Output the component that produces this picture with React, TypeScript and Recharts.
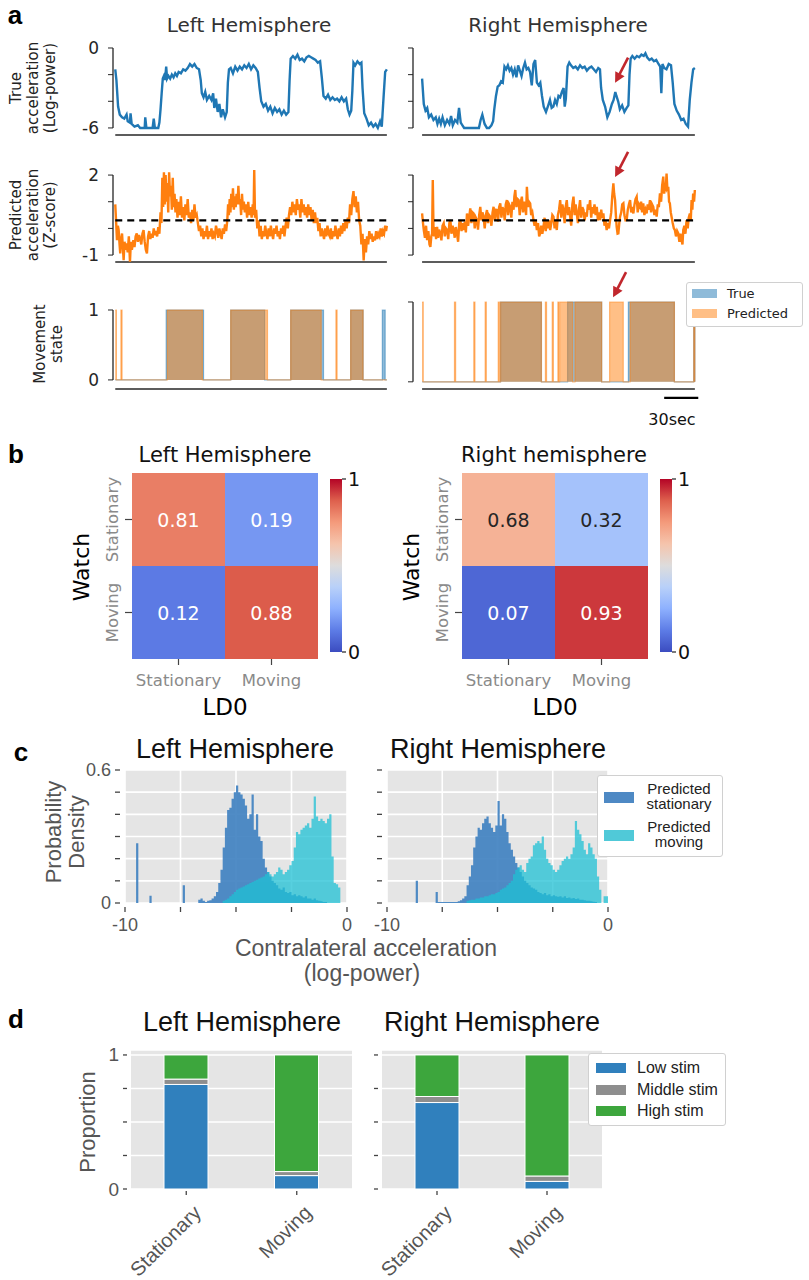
import React from 'react';
import {
  LineChart, Line, AreaChart, Area, BarChart, Bar, Cell, LabelList,
  XAxis, YAxis, CartesianGrid, ReferenceLine, ReferenceDot,
} from 'recharts';

const DEJAVU = '"DejaVu Sans", sans-serif';
const ARIAL = '"Liberation Sans", Arial, sans-serif';
const INK = '#262626';
const RED = '#c1272d';
const PANEL_BG = '#e5e5e5';

// ---- a: acceleration traces, [seconds, value] ----
const timeTicks = [0, 40, 80, 120, 160, 200, 240];
const threshold = 0.3;

const leftTrueAccel = [
  [0, -1.6], [1, -2.4], [2.5, -4.4], [4, -5.0], [6, -5.2], [8, -5.3], [10, -5.0], [11, -5.5], [13, -5.6], [13.5, -4.9],
  [14.5, -5.7], [17, -5.9], [20, -5.8], [22, -6], [26, -6], [26.5, -5.2], [27.5, -6], [33, -6], [34, -5.3], [35, -6],
  [38, -6], [39, -5.6], [40, -4.6], [41, -3.4], [42, -2.3], [43, -2.1], [44, -2.4], [45, -1.4], [45.8, -2.3], [47, -2.1],
  [48.5, -2.3], [50, -2.0], [51.5, -2.2], [53, -1.9], [54.5, -2.1], [56, -1.8], [58, -1.9], [60, -1.6], [62, -1.7], [64, -1.5],
  [66, -1.2], [68, -1.4], [70, -1.2], [72, -1.5], [74, -1.6], [75.5, -2.4], [76.5, -3.4], [78, -3.7], [79.5, -3.3], [81, -3.9],
  [83, -3.6], [85, -3.9], [86.5, -3.4], [87.5, -4.5], [89, -3.8], [90.5, -4.8], [92, -4.2], [93.5, -5.2], [95, -4.6], [97, -5.2],
  [98.5, -4.8], [99.5, -2.6], [100.5, -1.6], [102, -1.5], [104, -1.9], [106, -1.4], [108, -1.7], [110, -1.4], [112, -1.6], [114, -1.3],
  [116, -1.5], [118, -1.2], [120, -1.6], [122, -1.3], [124, -1.5], [126, -1.8], [127.5, -3.0], [129, -4.0], [131, -4.4], [133, -4.2],
  [135, -4.7], [137, -4.4], [139, -4.9], [141, -4.5], [143, -4.8], [145, -4.6], [147, -5.0], [149, -4.7], [151, -5.0], [153, -4.8],
  [154, -2.5], [155, -0.8], [157, -0.6], [159, -0.8], [161, -0.5], [163, -0.9], [165, -0.8], [167, -1.0], [169, -0.7], [171, -0.6],
  [173, -0.7], [175, -0.8], [177, -0.9], [179, -1.1], [181, -1.0], [182.5, -2.2], [184, -3.6], [186, -3.8], [188, -3.5], [190, -3.9],
  [192, -3.7], [194, -3.9], [196, -3.8], [198, -4.0], [200, -3.7], [202, -4.0], [204, -3.8], [205.5, -4.6], [207, -5.0], [208.5, -4.7],
  [209.5, -3.2], [210.5, -1.1], [212, -1.3], [214, -1.0], [216, -1.2], [217.5, -1.1], [218.5, -3.0], [220, -4.9], [222, -5.3], [224, -5.8],
  [226, -5.6], [228, -5.9], [230, -5.7], [232, -6.0], [234, -5.5], [235.5, -5.9], [237, -3.8], [238.5, -1.8], [240, -1.6],
];

const rightTrueAccel = [
  [0, -2.3], [1.5, -4.2], [3, -4.7], [4.5, -4.5], [6, -5.2], [8, -5.0], [10, -5.4], [12, -5.2], [13.5, -5.7], [15, -5.3],
  [16.5, -5.7], [18, -5.2], [20, -5.8], [22, -5.4], [24, -5.7], [25.5, -5.1], [27, -5.8], [29, -5.4], [31, -5.6], [32.5, -4.5],
  [34, -5.6], [35.5, -5.8], [37, -6], [50, -6], [51.5, -5.4], [53, -5.0], [55, -5.7], [57, -6], [59, -6], [61, -5.8],
  [62.5, -5.5], [63.5, -4.6], [65, -3.6], [66.5, -2.9], [68, -2.8], [69.5, -2.5], [71, -2.6], [72.5, -1.4], [74, -1.6], [75.5, -1.3],
  [77, -1.7], [78.5, -1.5], [80, -2.0], [81.5, -1.6], [83, -2.2], [84.5, -1.3], [86, -1.7], [87.5, -2.1], [89, -1.5], [90.5, -1.1],
  [92, -1.6], [93.5, -1.5], [95, -1.8], [96.5, -2.8], [98, -1.2], [99.5, -0.9], [101, -2.6], [102.5, -2.8], [104, -2.6], [105.5, -3.6],
  [107, -4.4], [109, -4.8], [111, -4.3], [112.5, -3.9], [114, -4.5], [115.5, -4.4], [117, -3.9], [118.5, -4.2], [120, -3.6], [121.5, -3.7],
  [123, -3.3], [124.5, -3.0], [125.5, -4.4], [126.5, -3.8], [128, -1.4], [129.5, -1.1], [131, -1.3], [133, -1.5], [135, -1.4], [137, -1.6],
  [139, -1.3], [141, -1.5], [143, -1.4], [145, -1.7], [147, -1.5], [149, -1.4], [151, -1.6], [153, -1.8], [155, -1.5], [156.5, -1.6],
  [157.5, -3.0], [159, -3.9], [161, -4.4], [163, -5.2], [165, -4.8], [167, -4.2], [168.5, -3.9], [170, -3.3], [171, -3.6], [172.5, -4.0],
  [174, -4.6], [176, -4.3], [178, -4.8], [180, -4.5], [181.5, -4.3], [182.5, -2.0], [183.5, -0.8], [185, -0.6], [187, -0.8], [189, -0.6],
  [191, -0.7], [193, -0.5], [195, -0.6], [196.5, -0.4], [198, -0.7], [200, -0.9], [202, -0.8], [204, -1.0], [206, -0.9], [208, -1.2],
  [209.5, -1.4], [210.5, -3.4], [211.5, -1.2], [213, -1.5], [215, -1.6], [217, -1.2], [219, -1.3], [220.5, -2.6], [222, -4.2], [224, -4.7],
  [226, -5.0], [228, -5.4], [230, -5.3], [232, -5.7], [234, -5.9], [235.5, -3.9], [237, -2.6], [238.5, -1.6], [240, -1.5],
];

const leftPredAccel = [
  [0, 0.9], [0.7, 0.3], [1.5, -0.44], [2.3, 0.1], [3, -0.06], [3.8, -0.6], [4.4, -0.94], [5.2, -0.4], [6, -0.19], [6.7, -0.7],
  [7.4, -1.19], [8.2, -0.5], [9, -0.8], [10, -0.56], [11, -0.9], [12, -0.3], [13, -1.25], [13.8, -0.5], [14.7, -0.8], [16, -0.44],
  [17, -0.7], [18, -0.3], [19, -0.19], [20, -0.5], [21, -0.25], [22, -0.38], [23, -0.6], [24, -0.2], [25, -0.06], [26, -0.5],
  [27, -0.8], [28, -0.94], [29, -0.3], [30, -0.1], [31, -0.4], [32, -0.2], [33, -0.35], [34, 0.0], [35, -0.25], [36, -0.1],
  [37, -0.3], [38, 0.05], [39, -0.2], [40, 0.6], [40.8, 0.2], [41.6, 1.9], [42.3, 0.8], [43, 2.1], [43.7, 0.9], [44.5, 2.0],
  [45.3, 1.0], [46, 1.7], [46.8, 0.6], [47.6, 2.1], [48.4, 1.2], [49.2, 1.6], [50, 0.7], [50.8, 1.9], [51.6, 0.8], [52.4, 1.3],
  [53.2, 0.6], [54, 1.1], [55, 0.4], [56, 1.0], [57, 0.5], [58, 1.2], [59, 0.4], [60, 0.8], [61, 0.3], [62, 0.9],
  [63, 0.5], [64, 1.1], [65, 0.4], [66, 0.6], [67, 0.2], [68, 0.7], [69, 0.3], [70, 0.9], [71, 0.4], [72, 0.5],
  [73, 0.2], [74, -0.1], [75, 0.1], [76, -0.3], [77, 0.0], [78, -0.4], [79, -0.1], [80, -0.3], [81, 0.1], [82, -0.4],
  [83, -0.1], [84, -0.3], [85, 0.0], [86, -0.4], [87, -0.2], [88, -0.3], [89, 0.1], [90, -0.1], [91, -0.35], [92, 0.0],
  [93, -0.2], [94, -0.4], [95, 0.0], [96, -0.2], [97, 0.15], [98, -0.1], [99, 0.3], [99.7, 0.9], [100.4, 0.5], [101.1, 1.1],
  [101.8, 0.6], [102.5, 1.3], [103.2, 0.8], [104, 1.5], [104.8, 0.7], [105.6, 1.2], [106.4, 0.8], [107.2, 1.3], [108, 0.9], [108.8, 1.6],
  [109.6, 0.9], [110.4, 1.1], [111.2, 0.5], [112, 1.3], [112.8, 0.7], [113.6, 1.0], [114.5, 0.6], [115.5, 0.9], [116.5, 0.4], [117.5, 1.0],
  [118.5, 0.5], [119.5, 0.8], [120.5, 0.4], [121.5, 0.9], [122.2, 0.5], [122.8, 2.2], [123.5, 0.4], [124.5, 0.7], [125.5, 0.0], [126.5, 0.3],
  [127.5, -0.3], [128.5, 0.1], [129.5, -0.4], [130.5, -0.1], [131.5, -0.3], [132.5, 0.1], [133.5, -0.2], [134.5, -0.4], [135.5, 0.0], [136.5, -0.3],
  [137.5, 0.1], [138.5, -0.2], [139.5, -0.4], [140.5, 0.0], [141.5, -0.2], [142.5, 0.1], [143.5, -0.3], [144.5, -0.1], [145.5, -0.4], [146.5, 0.0],
  [147.5, -0.2], [148.5, 0.1], [149.5, -0.3], [150.5, 0.1], [151.5, 0.4], [152.5, 0.0], [153.5, 0.5], [154.5, 0.8], [155.5, 0.5], [156.5, 1.0],
  [157.5, 0.6], [158.5, 0.9], [159.5, 0.5], [160.5, 1.1], [161.5, 0.7], [162.5, 0.9], [163.5, 0.4], [164.5, 1.1], [165.5, 0.6], [166.5, 0.9],
  [167.5, 0.5], [168.5, 0.8], [169.5, 0.4], [170.5, 0.9], [171.5, 0.5], [172.5, 0.8], [173.5, 0.3], [174.5, 0.7], [175.5, 0.2], [176.5, 0.6],
  [177.5, 0.2], [178.5, 0.4], [179.5, -0.1], [180.5, 0.2], [181.5, -0.3], [182.5, 0.0], [183.5, -0.2], [184.5, -0.4], [185.5, 0.0], [186.5, -0.3],
  [187.5, 0.1], [188.5, -0.2], [189.5, -0.3], [190.5, 0.0], [191.5, -0.4], [192.5, -0.1], [193.5, -0.3], [194.5, 0.1], [195.5, -0.2], [196.5, -0.4],
  [197.5, 0.0], [198.5, -0.3], [199.5, 0.1], [200.5, -0.2], [201.5, 0.2], [202.5, -0.1], [203.5, 0.3], [204.5, 0.0], [205.5, 0.4], [206.5, 0.2],
  [207.5, 0.9], [208.5, 0.5], [209.5, 1.1], [210.5, 1.4], [211.5, 0.8], [212.5, 1.2], [213.5, 0.6], [214.5, 1.0], [215.5, 0.3], [216.5, 0.1],
  [217.5, -0.6], [218.5, -0.2], [219.5, -1.2], [220.5, -0.4], [221.5, -0.9], [222.5, -0.3], [223.5, -0.6], [224.5, -0.1], [225.5, -0.4], [226.5, -0.2],
  [227.5, -0.5], [228.5, -0.3], [229.5, -0.45], [230.5, -0.1], [231.5, -0.4], [232.5, -0.2], [233.5, -0.3], [234.5, 0.0], [235.5, -0.3], [236.5, -0.1],
  [237.5, -0.2], [238.5, 0.1], [239.3, -0.1], [240, 0.1],
];

const rightPredAccel = [
  [0, 0.56], [0.8, 0.2], [1.5, -0.06], [2.5, -0.35], [3.5, 0.1], [4.4, -0.44], [5.5, -0.1], [6.5, -0.6], [7.3, -0.69], [8.1, -0.3],
  [8.8, -0.19], [9.4, 1.81], [10, 0.1], [10.6, -0.3], [11.5, 0.05], [12.3, -0.4], [13.2, 0.06], [14.1, -0.35], [15, -0.05], [16.1, -0.19],
  [17, -0.45], [18, 0.1], [19, 0.19], [20, -0.3], [21, 0.0], [22, -0.06], [23, -0.4], [24, 0.2], [24.9, 0.31], [25.8, -0.2],
  [26.8, 0.1], [27.8, -0.06], [28.7, -0.35], [29.7, 0.05], [30.7, -0.19], [31.7, -0.5], [32.7, 0.2], [33.7, 0.31], [34.7, -0.1], [35.6, 0.2],
  [36.6, -0.06], [37.6, 0.25], [38.5, -0.15], [39.5, 0.56], [40.5, 0.1], [41.4, 0.4], [42.4, 0.75], [43.4, 0.2], [44.4, 0.6], [45.4, 0.56],
  [46.3, 0.0], [47.3, 0.4], [48.3, 0.31], [49.2, -0.05], [50.2, 0.5], [51.2, 0.81], [52.2, 0.3], [53.1, 0.6], [54.1, 0.44], [55.1, 0.0],
  [56.1, 0.5], [57.1, 0.69], [58, 0.2], [59, 0.5], [60, 0.44], [61, 0.1], [62, 0.6], [62.9, 0.81], [63.9, 0.3], [64.9, 0.7],
  [65.9, 0.69], [66.8, 0.25], [67.8, 0.8], [68.8, 0.94], [69.8, 0.4], [70.7, 0.8], [71.7, 0.69], [72.7, 0.3], [73.6, 0.9], [74.6, 1.06],
  [75.6, 0.5], [76.6, 0.9], [77.6, 0.81], [78.5, 0.4], [79.5, 1.0], [80.5, 0.7], [81.2, 1.2], [82, 1.44], [83, 0.8], [84, 1.1],
  [84.9, 1.06], [85.9, 0.5], [86.9, 1.0], [87.8, 1.19], [88.8, 0.6], [89.7, 1.0], [90.7, 0.81], [91.5, 0.5], [92.2, 1.56], [93.2, 0.8],
  [94.1, 1.0], [95.1, 0.94], [96, 0.5], [97, 0.6], [98, 0.31], [99, 0.1], [100, 0.3], [101, -0.06], [102, 0.2], [103, -0.3],
  [103.9, -0.19], [104.8, 0.1], [105.8, -0.2], [106.8, 0.06], [107.8, 0.4], [108.8, -0.1], [109.8, 0.31], [110.8, 0.0], [111.7, 0.3], [112.7, -0.06],
  [113.7, 0.2], [114.6, 0.5], [115.6, 0.44], [116.6, 0.0], [117.6, 0.3], [118.5, -0.06], [119.5, 0.5], [120.5, 0.7], [121.5, 1.06], [122.5, 0.4],
  [123.4, 0.9], [124.4, 0.69], [125.4, 0.2], [126.3, 0.8], [127.3, 1.06], [128.3, 0.5], [129.3, 0.8], [130.3, 0.44], [131.2, 0.1], [132.2, 0.9],
  [133.2, 1.19], [134.2, 0.5], [135.1, 0.9], [136.1, 0.56], [137.1, 0.2], [138, 0.7], [139, 1.06], [140, 0.4], [141, 0.8], [142, 0.69],
  [143, 0.3], [144, 0.6], [144.9, 0.44], [145.9, 0.9], [146.8, 0.7], [147.8, 1.06], [148.8, 0.4], [149.7, 0.8], [150.7, 0.56], [151.7, 0.9],
  [152.7, 0.5], [153.7, 0.81], [154.7, 0.3], [155.6, 0.6], [156.6, 0.31], [157.6, 0.7], [158.5, 0.4], [159.5, 0.56], [160.5, 0.1], [161.4, 0.3],
  [162.4, -0.06], [163.4, 0.2], [164.4, 0.0], [165.4, 0.31], [166.4, 0.6], [167.3, 1.2], [168.3, 1.69], [169, 1.3], [169.8, 1.06], [170.5, 0.5],
  [171.2, 0.06], [172, -0.2], [172.7, -0.19], [173.5, 0.2], [174.2, 0.44], [175.2, 0.6], [176.1, 0.9], [177.1, 0.94], [178, 0.5], [179, 0.3],
  [180, 0.31], [181, 0.7], [182, 0.9], [183, 1.06], [184, 0.6], [184.9, 0.8], [185.9, 0.56], [186.9, 0.9], [187.8, 1.1], [188.8, 1.19],
  [189.7, 0.6], [190.7, 0.9], [191.7, 0.81], [192.7, 1.0], [193.6, 0.6], [194.6, 0.94], [195.6, 0.5], [196.6, 0.7], [197.6, 0.56], [198.5, 0.9],
  [199.5, 0.7], [200.5, 1.06], [201.5, 0.6], [202.4, 0.9], [203.4, 0.81], [204.4, 0.5], [205.4, 0.7], [206.4, 0.44], [207.4, 0.9], [208.3, 0.8],
  [209.3, 1.31], [210.3, 1.0], [211.2, 1.6], [212.2, 1.94], [213, 1.3], [213.7, 1.56], [214.4, 1.5], [215.1, 2.06], [215.9, 1.4], [216.6, 1.56],
  [217.3, 1.0], [218, 0.94], [218.8, 0.6], [219.5, 0.44], [220.5, 0.2], [221.5, 0.0], [222.4, -0.06], [223.4, -0.3], [224.4, -0.1], [225.4, -0.19],
  [226.4, -0.5], [227.3, -0.2], [228.3, -0.44], [229.1, -0.6], [229.8, -0.06], [230.8, 0.1], [231.7, -0.2], [232.7, 0.31], [233.7, 0.0], [234.6, 0.4],
  [235.6, 0.56], [236.4, 0.3], [237.1, 1.06], [237.8, 0.7], [238.5, 1.31], [239.3, 1.0], [240, 1.44],
];

// movement state, [start, end] in seconds
const leftTrueMoving = [[45, 78], [102, 132], [155, 184], [208, 219], [236, 238.5]];
const leftPredMoving = [[0, 1], [5, 6], [46, 77], [102, 134.5], [155, 182], [195, 196], [208, 219]];
const rightTrueMoving = [[69, 105], [128, 158], [181.5, 222], [239, 240]];
const rightPredMoving = [
  [0, 1], [28.5, 29.5], [45.5, 46.5], [55.5, 56.5], [67, 68], [69, 105], [108.5, 109.5], [114.5, 115.5],
  [119.5, 120.5], [121, 132.5], [134.5, 158], [165, 177], [183, 222], [239, 240],
];

// ---- b: confusion matrices (rows: watch, cols: LD0) ----
const stateLabels = ['Stationary', 'Moving'];
const leftConfusion = [[0.81, 0.19], [0.12, 0.88]];
const rightConfusion = [[0.68, 0.32], [0.07, 0.93]];
const coolwarmStops = [
  [0, '#3b4cc0'], [0.125, '#5d7ce6'], [0.25, '#8db0fe'], [0.375, '#b8d0f9'], [0.5, '#dddcdc'],
  [0.625, '#f5c4ac'], [0.75, '#f49a7b'], [0.875, '#de604d'], [1, '#b40426'],
];

// ---- c: density histograms, bins of 0.1 from -10 ----
const binWidth = 0.1;
const histTicks = [-10, -7.5, -5, -2.5, 0];
const densityTicks = [0, 0.1, 0.2, 0.3, 0.4, 0.5, 0.6];
const leftStationaryDensity = [
  0, 0, 0, 0, 0, 0.27, 0, 0, 0, 0,
  0, 0.033, 0, 0, 0, 0, 0, 0, 0, 0,
  0, 0, 0, 0, 0, 0, 0.08, 0, 0, 0,
  0, 0, 0, 0.015, 0.02, 0.01, 0.005, 0.01, 0.012, 0.02,
  0.03, 0.05, 0.09, 0.15, 0.25, 0.34, 0.42, 0.43, 0.47, 0.5,
  0.53, 0.5, 0.49, 0.47, 0.44, 0.38, 0.4, 0.49, 0.33, 0.4,
  0.3, 0.28, 0.2, 0.16, 0.14, 0.12, 0.1, 0.09, 0.08, 0.065,
  0.06, 0.07, 0.05, 0.045, 0.05, 0.035, 0.04, 0.03, 0.035, 0.03,
  0.025, 0.03, 0.02, 0.02, 0.015, 0.02, 0.012, 0.01, 0.008, 0.005,
  0.005, 0, 0, 0, 0, 0, 0, 0, 0, 0,
];
const leftMovingDensity = [
  0, 0, 0, 0, 0, 0, 0, 0, 0, 0,
  0, 0, 0, 0, 0, 0, 0, 0, 0, 0,
  0, 0, 0, 0, 0, 0, 0, 0, 0, 0,
  0, 0, 0, 0, 0, 0, 0, 0, 0, 0,
  0, 0, 0, 0, 0.01, 0.015, 0.02, 0.03, 0.04, 0.05,
  0.06, 0.065, 0.07, 0.075, 0.08, 0.085, 0.09, 0.095, 0.1, 0.105,
  0.11, 0.115, 0.12, 0.13, 0.14, 0.13, 0.12, 0.13, 0.14, 0.16,
  0.15, 0.13, 0.14, 0.15, 0.17, 0.19, 0.25, 0.32, 0.31, 0.33,
  0.34, 0.35, 0.36, 0.34, 0.38, 0.48, 0.39, 0.37, 0.38, 0.37,
  0.36, 0.38, 0.4, 0.21, 0.09, 0.085, 0.07, 0, 0, 0,
];
const rightStationaryDensity = [
  0, 0, 0, 0, 0, 0, 0, 0, 0, 0,
  0, 0, 0, 0.1, 0, 0, 0, 0, 0, 0,
  0, 0, 0.05, 0.005, 0.005, 0.005, 0.005, 0.005, 0.005, 0.005,
  0.005, 0.005, 0.008, 0.012, 0.02, 0.03, 0.08, 0.12, 0.17, 0.25,
  0.3, 0.34, 0.33, 0.36, 0.38, 0.39, 0.36, 0.34, 0.32, 0.35,
  0.46, 0.35, 0.4, 0.38, 0.32, 0.27, 0.24, 0.21, 0.18, 0.16,
  0.14, 0.12, 0.1, 0.09, 0.08, 0.07, 0.065, 0.06, 0.05, 0.045,
  0.04, 0.045, 0.035, 0.04, 0.03, 0.035, 0.03, 0.028, 0.03, 0.025,
  0.03, 0.022, 0.025, 0.02, 0.022, 0.018, 0.02, 0.015, 0.015, 0.012,
  0.01, 0.01, 0.008, 0.006, 0.005, 0, 0, 0, 0, 0,
];
const rightMovingDensity = [
  0, 0, 0, 0, 0, 0, 0, 0, 0, 0,
  0, 0, 0, 0, 0, 0, 0, 0, 0, 0,
  0, 0, 0, 0, 0, 0, 0, 0, 0, 0,
  0, 0, 0, 0, 0, 0, 0.01, 0.012, 0.015, 0.015,
  0.02, 0.02, 0.025, 0.025, 0.03, 0.03, 0.035, 0.04, 0.04, 0.045,
  0.05, 0.06, 0.065, 0.07, 0.08, 0.09, 0.1, 0.13, 0.15, 0.16,
  0.17, 0.15, 0.14, 0.18, 0.2, 0.21, 0.26, 0.27, 0.28, 0.27,
  0.3, 0.24, 0.2, 0.18, 0.17, 0.15, 0.14, 0.15, 0.17, 0.19,
  0.2, 0.21, 0.2, 0.22, 0.25, 0.37, 0.33, 0.31, 0.28, 0.24,
  0.22, 0.27, 0.25, 0.22, 0.2, 0.12, 0.06, 0, 0.03, 0.03,
];

// ---- d: stimulation proportions per predicted state ----
const proportionTicks = [0, 0.25, 0.5, 0.75, 1];
const leftLowStim = [0.78, 0.1];
const leftMidStim = [0.04, 0.03];
const leftHighStim = [0.18, 0.87];
const rightLowStim = [0.645, 0.057];
const rightMidStim = [0.045, 0.04];
const rightHighStim = [0.31, 0.903];

const BLUE = '#1f77b4';
const ORANGE = '#ff7f0e';
const STAT_FILL = '#3d7fc0';
const MOV_FILL = '#1fc0d4';
const LOW = '#3080bd';
const MID = '#8e8e8e';
const HIGH = '#3da63d';

function hexToRgb(h) {
  return [1, 3, 5].map((i) => parseInt(h.slice(i, i + 2), 16));
}

function coolwarm(v) {
  for (let i = 1; i < coolwarmStops.length; i++) {
    const [v1, c1] = coolwarmStops[i];
    const [v0, c0] = coolwarmStops[i - 1];
    if (v <= v1) {
      const f = (v - v0) / (v1 - v0);
      const a = hexToRgb(c0), b = hexToRgb(c1);
      const c = a.map((x, k) => Math.round(x + (b[k] - x) * f));
      return `rgb(${c[0]},${c[1]},${c[2]})`;
    }
  }
  return coolwarmStops[coolwarmStops.length - 1][1];
}

function textOn(v) {
  const c = coolwarm(v).match(/\d+/g).map(Number);
  const lin = c.map((x) => { const s = x / 255; return s <= 0.03928 ? s / 12.92 : Math.pow((s + 0.055) / 1.055, 2.4); });
  const lum = 0.2126 * lin[0] + 0.7152 * lin[1] + 0.0722 * lin[2];
  return lum > 0.408 ? '#262626' : '#ffffff';
}

function stateTable(trueIv, predIv) {
  const edges = Array.from(new Set([0, 240, ...trueIv.flat(), ...predIv.flat()])).sort((a, b) => a - b);
  const inside = (iv, t) => (iv.some(([s, e]) => t >= s && t < e) ? 1 : 0);
  return edges.map((t) => ({ t, truth: inside(trueIv, t), pred: inside(predIv, t) }));
}

function histTable(stationary, moving) {
  const rows = stationary.map((s, i) => ({ x: Math.round((-10 + i * binWidth) * 10) / 10, s, m: moving[i] }));
  return rows.concat([{ x: 0, s: 0, m: 0 }]);
}

function Txt({ x, y, size, children, font = ARIAL, color = '#000', weight = 400, rotate = 0, lh = 0 }) {
  return (
    <div style={{
      position: 'absolute', left: x, top: y, transform: `translate(-50%, -50%) rotate(${rotate}deg)`,
      fontSize: size, fontFamily: font, color, fontWeight: weight, lineHeight: lh ? `${lh}px` : 1.15,
      whiteSpace: 'nowrap', textAlign: 'center',
    }}>{children}</div>
  );
}

const ArrowShape = (p) => {
  const { cx, cy } = p;
  return (
    <g>
      <line x1={cx + 13} y1={cy - 25} x2={cx + 4.5} y2={cy - 8.5} stroke={RED} strokeWidth={2.6} />
      <polygon points={`${cx},${cy} ${cx + 9.5},${cy - 6.5} ${cx + 0.2},${cy - 11.5}`} fill={RED} />
    </g>
  );
};

function Spines({ xMin, yLo, yHi, yBase }) {
  return [
    <ReferenceLine key="ys" segment={[{ x: xMin, y: yLo }, { x: xMin, y: yHi }]} stroke={INK} strokeWidth={1.3} ifOverflow="visible" />,
    <ReferenceLine key="xs" segment={[{ x: 0, y: yBase }, { x: 240, y: yBase }]} stroke={INK} strokeWidth={1.3} ifOverflow="visible" />,
  ];
}

function AccelPlot({ box, xMin, data, color, yDomain, yTicks, labelled, dashed = false, arrow = null }) {
  const yw = 45, xh = 10, mr = 6;
  const rows = data.map(([t, v]) => ({ t, v }));
  return (
    <div style={{ position: 'absolute', left: box.x - yw, top: box.y, fontFamily: DEJAVU }}>
      <LineChart width={yw + box.w + mr} height={box.h + xh} data={rows} margin={{ top: 0, right: mr, bottom: 0, left: 0 }}>
        <XAxis type="number" dataKey="t" domain={[xMin, 241]} ticks={timeTicks} allowDataOverflow axisLine={false}
          tick={false} tickSize={5} height={xh} stroke={INK} interval={0} />
        <YAxis type="number" domain={yDomain} ticks={yTicks} allowDataOverflow axisLine={false} width={yw}
          tickSize={5} tickMargin={9} stroke={INK} interval={0} tick={{ fill: INK, fontSize: 17 }}
          tickFormatter={(v) => (labelled.includes(v) ? String(v) : '')} />
        {Spines({ xMin, yLo: yTicks[0], yHi: yTicks[yTicks.length - 1], yBase: yDomain[0] })}
        <Line type="linear" dataKey="v" stroke={color} strokeWidth={2.4} dot={false} isAnimationActive={false} />
        {dashed && (
          <ReferenceLine segment={[{ x: 0, y: threshold }, { x: 240, y: threshold }]} stroke="#000" strokeWidth={2.2} strokeDasharray="7 5" />
        )}
        {arrow && <ReferenceDot x={arrow[0]} y={arrow[1]} r={1} ifOverflow="visible" shape={ArrowShape} />}
      </LineChart>
    </div>
  );
}

function StatePlot({ box, xMin, yDomain, trueIv, predIv, labelled, mt = 0, arrow = null, scaleBar = false }) {
  const yw = 45, xh = 10, mr = 20;
  const rows = stateTable(trueIv, predIv);
  return (
    <div style={{ position: 'absolute', left: box.x - yw, top: box.y - mt, fontFamily: DEJAVU }}>
      <AreaChart width={yw + box.w + mr} height={box.h + xh + mt} data={rows} margin={{ top: mt, right: mr, bottom: 0, left: 0 }}>
        <XAxis type="number" dataKey="t" domain={[xMin, 241]} ticks={timeTicks} allowDataOverflow axisLine={false}
          tick={false} tickSize={5} height={xh} stroke={INK} interval={0} />
        <YAxis type="number" domain={yDomain} ticks={[0, 1]} allowDataOverflow axisLine={false} width={yw}
          tickSize={5} tickMargin={9} stroke={INK} interval={0} tick={{ fill: INK, fontSize: 17 }}
          tickFormatter={(v) => (labelled ? String(v) : '')} />
        {Spines({ xMin, yLo: 0, yHi: 1, yBase: yDomain[0] })}
        <Area type="stepAfter" dataKey="truth" baseValue={0} stroke={BLUE} strokeOpacity={0.5} strokeWidth={1.2}
          fill={BLUE} fillOpacity={0.5} isAnimationActive={false} />
        <Area type="stepAfter" dataKey="pred" baseValue={0} stroke={ORANGE} strokeOpacity={0.5} strokeWidth={1.2}
          fill={ORANGE} fillOpacity={0.5} isAnimationActive={false} />
        {arrow && <ReferenceDot x={arrow[0]} y={arrow[1]} r={1} ifOverflow="visible" shape={ArrowShape} />}
        {scaleBar && (
          <ReferenceLine segment={[{ x: 213, y: -0.2 }, { x: 243, y: -0.2 }]} stroke="#000" strokeWidth={2.2} ifOverflow="visible" />
        )}
      </AreaChart>
    </div>
  );
}

const HeatXTick = (p) => (
  <g>
    <line x1={p.x} y1={p.y} x2={p.x} y2={p.y + 6} stroke="#444" strokeWidth={1.2} />
    <text x={p.x} y={p.y + 21} textAnchor="middle" dominantBaseline="central" fontSize={16.5} fill="#8a8a8a">{p.payload.value}</text>
  </g>
);

const HeatYTick = (p) => {
  const label = p.payload.value > 1 ? stateLabels[0] : stateLabels[1];
  return (
    <g>
      <line x1={p.x - 7} y1={p.y} x2={p.x} y2={p.y} stroke="#444" strokeWidth={1.2} />
      <text x={p.x - 20} y={p.y} textAnchor="middle" dominantBaseline="central" fontSize={16.5} fill="#8a8a8a"
        transform={`rotate(-90 ${p.x - 20} ${p.y})`}>{label}</text>
    </g>
  );
};

const CellText = (p) => (
  <text x={p.x + p.width / 2} y={p.y + p.height / 2} textAnchor="middle" dominantBaseline="central"
    fontSize={19} fontFamily={DEJAVU} fill={textOn(p.value)}>{p.value.toFixed(2)}</text>
);

function Heatmap({ box, matrix }) {
  const yw = 50, xh = 34;
  const rows = stateLabels.map((ld, j) => ({ ld, moving: 1, stationary: 1, movingVal: matrix[1][j], stationaryVal: matrix[0][j] }));
  return (
    <div style={{ position: 'absolute', left: box.x - yw, top: box.y, fontFamily: DEJAVU }}>
      <BarChart width={yw + box.w} height={box.h + xh} data={rows} barCategoryGap={0} margin={{ top: 0, right: 0, bottom: 0, left: 0 }}>
        <XAxis dataKey="ld" axisLine={false} tickLine={false} tickSize={0} tickMargin={0} height={xh} interval={0} tick={HeatXTick} />
        <YAxis type="number" domain={[0, 2]} ticks={[0.5, 1.5]} axisLine={false} tickLine={false} tickSize={0} tickMargin={0}
          width={yw} interval={0} tick={HeatYTick} />
        <Bar dataKey="moving" stackId="cm" isAnimationActive={false}>
          {rows.map((r, i) => <Cell key={i} fill={coolwarm(r.movingVal)} />)}
          <LabelList dataKey="movingVal" content={CellText} />
        </Bar>
        <Bar dataKey="stationary" stackId="cm" isAnimationActive={false}>
          {rows.map((r, i) => <Cell key={i} fill={coolwarm(r.stationaryVal)} />)}
          <LabelList dataKey="stationaryVal" content={CellText} />
        </Bar>
      </BarChart>
    </div>
  );
}

const CbTick = (p) => (
  <g>
    <line x1={p.x} y1={p.y} x2={p.x + 4} y2={p.y} stroke="#222" strokeWidth={1.2} />
    <text x={p.x + 6} y={p.y} dominantBaseline="central" fontSize={19} fill="#111">{p.payload.value}</text>
  </g>
);

function ColorBar({ box, id }) {
  const stops = coolwarmStops.map(([v, c]) => ({ v, c }));
  const GradRect = (p) => (
    <g>
      <defs>
        <linearGradient id={id} x1="0" y1="1" x2="0" y2="0">
          {stops.map((s) => <stop key={s.v} offset={s.v} stopColor={s.c} />)}
        </linearGradient>
      </defs>
      <rect x={p.x} y={p.y} width={p.width} height={p.height} fill={`url(#${id})`} />
    </g>
  );
  return (
    <div style={{ position: 'absolute', left: box.x, top: box.y, fontFamily: DEJAVU }}>
      <BarChart width={box.w + 40} height={box.h} data={[{ k: 'cb', v: 1 }]} barCategoryGap={0} margin={{ top: 0, right: 0, bottom: 0, left: 0 }}>
        <XAxis dataKey="k" hide />
        <YAxis orientation="right" type="number" domain={[0, 1]} ticks={[0, 1]} axisLine={false} tickLine={false}
          tickSize={0} tickMargin={0} width={40} interval={0} tick={CbTick} />
        <Bar dataKey="v" isAnimationActive={false} shape={GradRect} />
      </BarChart>
    </div>
  );
}

function Histogram({ box, stationary, moving, yw, showLabels }) {
  const xh = 40;
  const XTick = (p) => (
    <g>
      <line x1={p.x} y1={p.y + 4} x2={p.x} y2={p.y + 9} stroke="#444" strokeWidth={1.3} />
      {(p.payload.value === -10 || p.payload.value === 0) && (
        <text x={p.x} y={p.y + 22} textAnchor="middle" dominantBaseline="central" fontSize={18} fill="#555">{p.payload.value}</text>
      )}
    </g>
  );
  const YTick = (p) => (
    <g>
      <line x1={p.x - 10} y1={p.y} x2={p.x - 5} y2={p.y} stroke="#444" strokeWidth={1.3} />
      {showLabels && (p.payload.value === 0 || p.payload.value === 0.6) && (
        <text x={p.x - 14} y={p.y} textAnchor="end" dominantBaseline="central" fontSize={18} fill="#555">{p.payload.value}</text>
      )}
    </g>
  );
  return (
    <div style={{ position: 'absolute', left: box.x - yw, top: box.y, fontFamily: ARIAL }}>
      <AreaChart width={yw + box.w + 4} height={box.h + xh} data={histTable(stationary, moving)} margin={{ top: 0, right: 4, bottom: 0, left: 0 }}>
        <CartesianGrid fill={PANEL_BG} fillOpacity={1} stroke="#ffffff" strokeWidth={1.6} />
        <XAxis type="number" dataKey="x" domain={[-10, 0]} ticks={histTicks} allowDataOverflow axisLine={false} tickLine={false}
          tickSize={0} tickMargin={0} height={xh} interval={0} tick={XTick} />
        <YAxis type="number" domain={[0, 0.6]} ticks={densityTicks} allowDataOverflow axisLine={false} tickLine={false}
          tickSize={0} tickMargin={0} width={yw} interval={0} tick={YTick} />
        <Area type="stepAfter" dataKey="s" baseValue={0} stroke="none" fill={STAT_FILL} fillOpacity={0.9} isAnimationActive={false} />
        <Area type="stepAfter" dataKey="m" baseValue={0} stroke="none" fill={MOV_FILL} fillOpacity={0.75} isAnimationActive={false} />
      </AreaChart>
    </div>
  );
}

function StimBars({ box, low, mid, high, yw, showLabels }) {
  const xh = 95;
  const rows = stateLabels.map((st, i) => ({ st, low: low[i], mid: mid[i], high: high[i] }));
  const XTick = (p) => (
    <g>
      <line x1={p.x} y1={p.y + 2} x2={p.x} y2={p.y + 6} stroke="#444" strokeWidth={1.3} />
      <text x={p.x + 16} y={p.y + 25} textAnchor="end" fontSize={20} fill="#555"
        transform={`rotate(-45 ${p.x + 16} ${p.y + 25})`}>{p.payload.value}</text>
    </g>
  );
  const YTick = (p) => (
    <g>
      <line x1={p.x - 8} y1={p.y} x2={p.x - 4} y2={p.y} stroke="#444" strokeWidth={1.3} />
      {showLabels && (p.payload.value === 0 || p.payload.value === 1) && (
        <text x={p.x - 12} y={p.y} textAnchor="end" dominantBaseline="central" fontSize={19} fill="#555">{p.payload.value}</text>
      )}
    </g>
  );
  return (
    <div style={{ position: 'absolute', left: box.x - yw, top: box.y, fontFamily: ARIAL }}>
      <BarChart width={yw + box.w} height={box.h + xh} data={rows} margin={{ top: 0, right: 0, bottom: 0, left: 0 }}>
        <CartesianGrid vertical={false} fill={PANEL_BG} fillOpacity={1} stroke="#ffffff" strokeWidth={1.6} />
        <XAxis dataKey="st" axisLine={false} tickLine={false} tickSize={0} tickMargin={0} height={xh} interval={0} tick={XTick} />
        <YAxis type="number" domain={[0, 1.037]} ticks={proportionTicks} allowDataOverflow axisLine={false} tickLine={false}
          tickSize={0} tickMargin={0} width={yw} interval={0} tick={YTick} />
        <Bar dataKey="low" stackId="p" fill={LOW} stroke="#fff" strokeWidth={1} barSize={44} isAnimationActive={false} />
        <Bar dataKey="mid" stackId="p" fill={MID} stroke="#fff" strokeWidth={1} barSize={44} isAnimationActive={false} />
        <Bar dataKey="high" stackId="p" fill={HIGH} stroke="#fff" strokeWidth={1} barSize={44} isAnimationActive={false} />
      </BarChart>
    </div>
  );
}

function Patch({ x, y, w, h, color }) {
  return <div style={{ position: 'absolute', left: x, top: y, width: w, height: h, background: color }} />;
}

const legendBox = { position: 'absolute', border: '1px solid #d0d0d0', borderRadius: 3, background: '#fff', color: '#222', whiteSpace: 'nowrap' };

export default function App() {
  return (
    <div style={{ position: 'absolute', left: 0, top: 0, width: 809, height: 1280, background: '#fff', overflow: 'hidden' }}>
      <style>{'svg{overflow:visible}'}</style>

      {/* a */}
      <Txt x={15} y={16} size={26} weight={700}>a</Txt>
      <Txt x={249} y={25} size={20} font={DEJAVU} color="#333">Left Hemisphere</Txt>
      <Txt x={558} y={25} size={20} font={DEJAVU} color="#333">Right Hemisphere</Txt>
      <Txt x={33} y={88} size={15} font={DEJAVU} color="#222" rotate={-90} lh={17}>True<br />acceleration<br />(Log-power)</Txt>
      <Txt x={33} y={215} size={15} font={DEJAVU} color="#222" rotate={-90} lh={17}>Predicted<br />acceleration<br />(Z-score)</Txt>
      <Txt x={49} y={344} size={15} font={DEJAVU} color="#222" rotate={-90} lh={17}>Movement<br />state</Txt>

      <AccelPlot box={{ x: 113, y: 44, w: 275, h: 91 }} xMin={-2} data={leftTrueAccel} color={BLUE}
        yDomain={[-6.53, 0.3]} yTicks={[-6, -4, -2, 0]} labelled={[-6, 0]} />
      <AccelPlot box={{ x: 413, y: 44, w: 283, h: 91 }} xMin={-8} data={rightTrueAccel} color={BLUE}
        yDomain={[-6.53, 0.3]} yTicks={[-6, -4, -2, 0]} labelled={[]} arrow={[169.8, -2.6]} />
      <AccelPlot box={{ x: 113, y: 170, w: 275, h: 92 }} xMin={-2} data={leftPredAccel} color={ORANGE}
        yDomain={[-1.26, 2.19]} yTicks={[-1, 0, 1, 2]} labelled={[-1, 2]} dashed />
      <AccelPlot box={{ x: 413, y: 170, w: 283, h: 92 }} xMin={-8} data={rightPredAccel} color={ORANGE}
        yDomain={[-1.26, 2.19]} yTicks={[-1, 0, 1, 2]} labelled={[]} dashed arrow={[169.8, 1.93]} />
      <StatePlot box={{ x: 113, y: 303, w: 275, h: 86 }} xMin={-2} yDomain={[-0.13, 1.1]}
        trueIv={leftTrueMoving} predIv={leftPredMoving} labelled />
      <StatePlot box={{ x: 413, y: 298, w: 283, h: 91 }} xMin={-8} yDomain={[-0.09, 1.05]} mt={30}
        trueIv={rightTrueMoving} predIv={rightPredMoving} labelled={false} arrow={[168, 1.06]} scaleBar />
      <Txt x={672} y={420} size={16} font={DEJAVU} color="#111">30sec</Txt>

      <div style={{ ...legendBox, left: 686, top: 282, width: 115, height: 43, fontFamily: DEJAVU, fontSize: 13 }}>
        <Patch x={5} y={6} w={25} h={9} color="#8fbbd9" />
        <div style={{ position: 'absolute', left: 40, top: 3 }}>True</div>
        <Patch x={5} y={26} w={25} h={9} color="#ffbf86" />
        <div style={{ position: 'absolute', left: 40, top: 23 }}>Predicted</div>
      </div>

      {/* b */}
      <Txt x={16} y={455} size={26} weight={700}>b</Txt>
      <Txt x={225} y={455} size={21} font={DEJAVU} color="#111">Left Hemisphere</Txt>
      <Txt x={554} y={455} size={21} font={DEJAVU} color="#111">Right hemisphere</Txt>
      <Txt x={82} y={567} size={22} font={DEJAVU} rotate={-90}>Watch</Txt>
      <Txt x={412} y={567} size={22} font={DEJAVU} rotate={-90}>Watch</Txt>
      <Txt x={225} y={707} size={23} font={DEJAVU}>LD0</Txt>
      <Txt x={555} y={707} size={23} font={DEJAVU}>LD0</Txt>
      <Heatmap box={{ x: 132, y: 473, w: 186, h: 186 }} matrix={leftConfusion} />
      <ColorBar box={{ x: 330, y: 479, w: 12, h: 173 }} id="cbL" />
      <Heatmap box={{ x: 462, y: 473, w: 186, h: 186 }} matrix={rightConfusion} />
      <ColorBar box={{ x: 660, y: 479, w: 12, h: 173 }} id="cbR" />

      {/* c */}
      <Txt x={21} y={753} size={26} weight={700}>c</Txt>
      <Txt x={235} y={750} size={27} color="#111">Left Hemisphere</Txt>
      <Txt x={498} y={750} size={27} color="#111">Right Hemisphere</Txt>
      <Txt x={65} y={832} size={22} color="#555" rotate={-90} lh={23}>Probability<br />Density</Txt>
      <Txt x={366} y={948} size={23} color="#555">Contralateral acceleration</Txt>
      <Txt x={362} y={973} size={23} color="#555">(log-power)</Txt>
      <Histogram box={{ x: 125, y: 770, w: 222, h: 133 }} stationary={leftStationaryDensity} moving={leftMovingDensity} yw={50} showLabels />
      <Histogram box={{ x: 387, y: 770, w: 221, h: 133 }} stationary={rightStationaryDensity} moving={rightMovingDensity} yw={14} showLabels={false} />
      <div style={{ ...legendBox, left: 597, top: 775, width: 124, height: 80, fontFamily: ARIAL, fontSize: 15, lineHeight: '15px' }}>
        <Patch x={6} y={16} w={30} h={11} color="#4e89c4" />
        <div style={{ position: 'absolute', left: 44, top: 5, width: 74, textAlign: 'center' }}>Predicted<br />stationary</div>
        <Patch x={6} y={54} w={30} h={11} color="#50c9d8" />
        <div style={{ position: 'absolute', left: 44, top: 43, width: 74, textAlign: 'center' }}>Predicted<br />moving</div>
      </div>

      {/* d */}
      <Txt x={16} y={1020} size={26} weight={700}>d</Txt>
      <Txt x={242} y={1023} size={27} color="#111">Left Hemisphere</Txt>
      <Txt x={492} y={1023} size={27} color="#111">Right Hemisphere</Txt>
      <Txt x={88} y={1122} size={22} color="#555" rotate={-90}>Proportion</Txt>
      <StimBars box={{ x: 131, y: 1050, w: 221, h: 139 }} low={leftLowStim} mid={leftMidStim} high={leftHighStim} yw={40} showLabels />
      <StimBars box={{ x: 382, y: 1050, w: 220, h: 139 }} low={rightLowStim} mid={rightMidStim} high={rightHighStim} yw={14} showLabels={false} />
      <div style={{ ...legendBox, left: 588, top: 1053, width: 136, height: 71, fontFamily: ARIAL, fontSize: 16 }}>
        <Patch x={7} y={9} w={30} h={10} color={LOW} />
        <div style={{ position: 'absolute', left: 48, top: 5 }}>Low stim</div>
        <Patch x={7} y={31} w={30} h={10} color={MID} />
        <div style={{ position: 'absolute', left: 48, top: 27 }}>Middle stim</div>
        <Patch x={7} y={52} w={30} h={10} color={HIGH} />
        <div style={{ position: 'absolute', left: 48, top: 48 }}>High stim</div>
      </div>
    </div>
  );
}
